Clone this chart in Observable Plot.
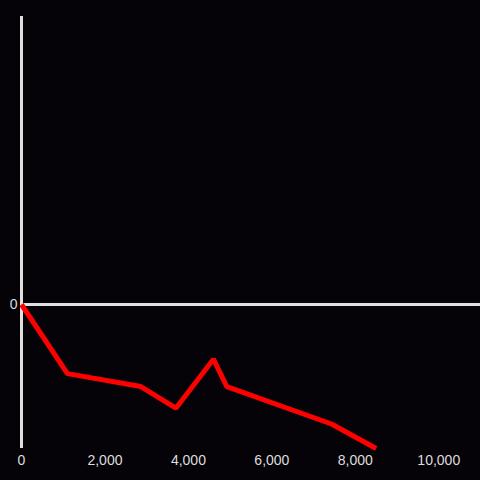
<!DOCTYPE html>
<html>
<head>
<meta charset="utf-8">
<script src="https://cdn.jsdelivr.net/npm/d3@7"></script>
<script src="https://cdn.jsdelivr.net/npm/@observablehq/plot@0.6"></script>
<style>
  html, body { margin: 0; padding: 0; background: #050307; }
  #chart { width: 480px; height: 480px; }
</style>
</head>
<body>
<div id="chart"></div>
<script>
const xValues = [0, 1100, 2860, 3700, 4600, 4920, 7430, 8500];
const yValues = [0, -0.48, -0.57, -0.72, -0.38, -0.57, -0.83, -1.0];
const xTicks = [0, 2000, 4000, 6000, 8000, 10000];
const yTicks = [0];

const data = xValues.map((x, i) => ({x, y: yValues[i]}));
const fmt = d3.format(",");

const chart = Plot.plot({
  width: 480,
  height: 480,
  marginLeft: 21,
  marginRight: 0,
  marginTop: 16,
  marginBottom: 32,
  style: {background: "#050307", color: "#dddddd", fontFamily: "'Liberation Sans', Arial, sans-serif", fontSize: "14px"},
  x: {domain: [0, 11000]},
  y: {domain: [-1, 2]},
  marks: [
    Plot.axisX(xTicks, {tickSize: 0, tickPadding: 7, tickFormat: fmt, fill: "#dddddd", fontSize: 14, label: null}),
    Plot.axisY(yTicks, {tickSize: 0, tickPadding: 4, tickFormat: fmt, fill: "#dddddd", fontSize: 14, label: null}),
    Plot.ruleX([0], {y1: -1, y2: 2, stroke: "#e0e0e0", strokeWidth: 3}),
    Plot.ruleY(yTicks, {stroke: "#e0e0e0", strokeWidth: 3}),
    Plot.line(data, {x: "x", y: "y", stroke: "#ff0000", strokeWidth: 5, strokeLinejoin: "miter", strokeLinecap: "butt"})
  ]
});
document.getElementById("chart").append(chart);
</script>
</body>
</html>
